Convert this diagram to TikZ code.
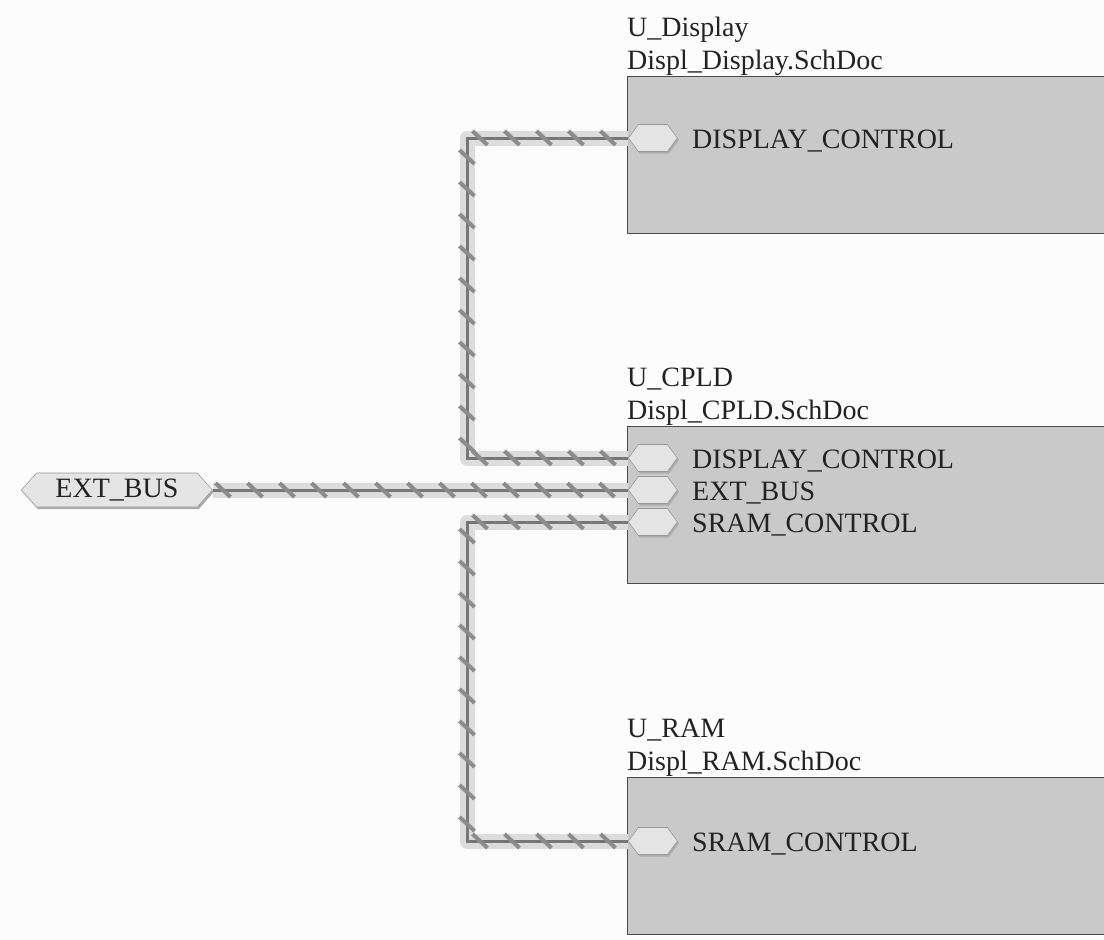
\documentclass[tikz,border=0pt]{standalone}
\usepackage{fontspec}
\setmainfont{Liberation Serif}
\usetikzlibrary{shapes.symbols,shadows}
\definecolor{bgc}{HTML}{FCFCFC}
\definecolor{boxfill}{HTML}{C9C9C9}
\definecolor{boxline}{HTML}{4A4A4A}
\definecolor{pinfill}{HTML}{E4E4E4}
\definecolor{pinline}{HTML}{9A9A9A}
\definecolor{pinshadow}{HTML}{ABABAB}
\definecolor{bandc}{HTML}{DCDCDC}
\definecolor{wirec}{HTML}{777777}
\definecolor{tickc}{HTML}{8C8C8C}
\definecolor{txtc}{HTML}{222222}
\tikzset{
  sheetbox/.style={draw=boxline, fill=boxfill, line width=1.2pt, rectangle, inner sep=0pt, anchor=north west, minimum width=520pt, minimum height=157pt},
  pinhex/.style={shape=signal, signal to=west and east, signal pointer angle=107, draw=pinline, line width=0.6pt, fill=pinfill, minimum width=49pt, minimum height=27pt, inner sep=0pt, anchor=west, drop shadow={shadow xshift=1.5pt, shadow yshift=-2pt, fill=pinshadow, opacity=1}},
  porthex/.style={shape=signal, signal to=west and east, signal pointer angle=97, draw=pinline, line width=0.6pt, fill=pinfill, minimum width=191pt, minimum height=34pt, inner sep=0pt, anchor=west, text=txtc, font=\fontsize{28}{33}\selectfont, drop shadow={shadow xshift=1.5pt, shadow yshift=-2pt, fill=pinshadow, opacity=1}},
  busband/.style={draw=bandc, line width=15pt, line join=round, line cap=butt},
  busline/.style={draw=wirec, line width=3pt, line join=miter, line cap=butt},
  bustick/.style={draw=tickc, line width=4pt, line cap=butt},
  lbl/.style={anchor=base west, inner sep=0pt, text=txtc, font=\fontsize{28}{33}\selectfont},
}
\begin{document}
\begin{tikzpicture}[x=1pt,y=-1pt]
\useasboundingbox (0,0) rectangle (1104,940);
\clip (0,0) rectangle (1104,940);
\fill[bgc] (0,0) rectangle (1104,940);

% sheet symbols
\node[sheetbox] (dispbox) at (627,76) {};
\node[sheetbox] (cpldbox) at (627,426) {};
\node[sheetbox] (rambox) at (627,777) {};

\node[lbl] (dispname) at (627,36) {U\_Display};
\node[lbl] (dispfile) at (627,69) {Displ\_Display.SchDoc};
\node[lbl] (cpldname) at (627,386) {U\_CPLD};
\node[lbl] (cpldfile) at (627,419) {Displ\_CPLD.SchDoc};
\node[lbl] (ramname) at (627,737) {U\_RAM};
\node[lbl] (ramfile) at (627,770) {Displ\_RAM.SchDoc};

% pin positions
\coordinate (pDD) at (628,138);
\coordinate (pDC) at (628,458);
\coordinate (pEC) at (628,490);
\coordinate (pSC) at (628,522);
\coordinate (pSR) at (628,841);
\coordinate (busx) at (467,0);

% port
\node[porthex] (extport) at (21,490) {EXT\_BUS};

% wires: light band
\draw[busband] (pDD) -| (busx |- pDC) -- (pDC);
\draw[busband] (extport.east) -- (pEC);
\draw[busband] (pSC) -| (busx |- pSR) -- (pSR);
% wires: dark line
\draw[busline] (pDD) -| (busx |- pDC) -- (pDC);
\draw[busline] (extport.east) -- (pEC);
\draw[busline] (pSC) -| (busx |- pSR) -- (pSR);

% bus ticks
\foreach \yy in {138,458,522,841}{
  \foreach \xx in {480,512,...,608}{
    \draw[bustick] (\xx,\yy) ++(-7.5,-7) -- ++(15,14);
  }
}
\foreach \xx in {223,255,...,607}{
  \draw[bustick] (\xx,490) ++(-7.5,-7) -- ++(15,14);
}
\foreach \yy in {157,189,...,445}{
  \draw[bustick] (467,\yy) ++(-7.5,-7) -- ++(15,14);
}
\foreach \yy in {536,568,...,824}{
  \draw[bustick] (467,\yy) ++(-7.5,-7) -- ++(15,14);
}

% sheet entries
\node[pinhex] (dcD) at (pDD) {};
\node[pinhex] (dcC) at (pDC) {};
\node[pinhex] (ebC) at (pEC) {};
\node[pinhex] (scC) at (pSC) {};
\node[pinhex] (scR) at (pSR) {};

\node[lbl] (tDD) at (692,148) {DISPLAY\_CONTROL};
\node[lbl] (tDC) at (692,468) {DISPLAY\_CONTROL};
\node[lbl] (tEC) at (692,500) {EXT\_BUS};
\node[lbl] (tSC) at (692,532) {SRAM\_CONTROL};
\node[lbl] (tSR) at (692,851) {SRAM\_CONTROL};
\end{tikzpicture}
\end{document}
